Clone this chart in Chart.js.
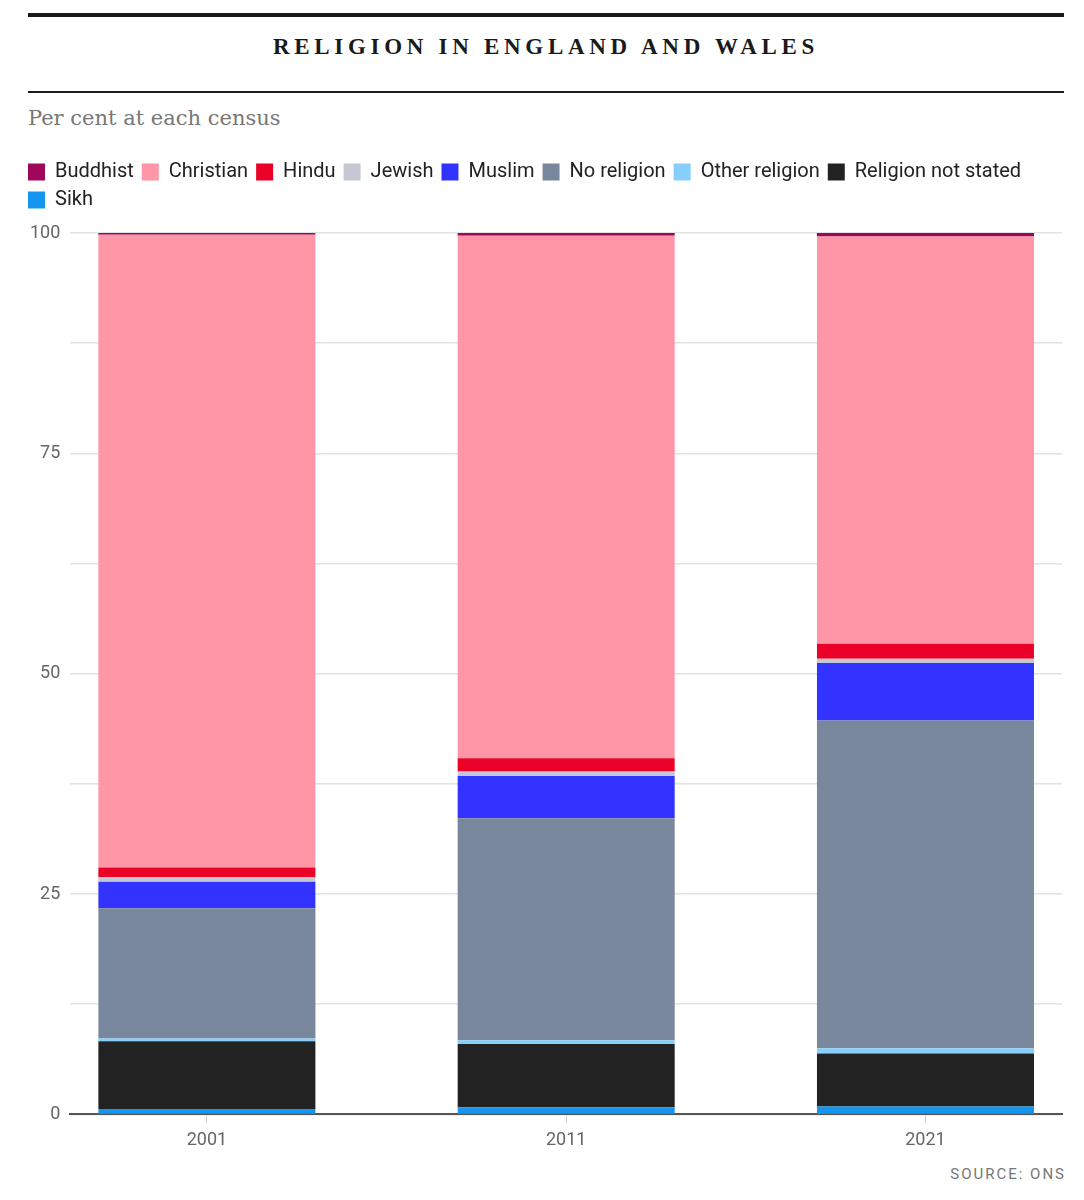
<!DOCTYPE html>
<html>
<head>
<meta charset="utf-8">
<script src="https://cdn.jsdelivr.net/npm/chart.js@4"></script>
<style>
    body { margin: 0; background: #fff; width: 1084px; height: 1200px; position: relative; }
    .rule-top { position: absolute; left: 28px; top: 13px; width: 1036px; height: 4px; background: #1a1a1a; }
    .rule-mid { position: absolute; left: 28px; top: 91px; width: 1036px; height: 2px; background: #1a1a1a; }
    .title { position: absolute; left: 28px; top: 34px; width: 1036px; text-align: center;
             font-family: "Liberation Serif", "DejaVu Serif", serif; font-weight: bold; font-size: 23px;
             letter-spacing: 4.7px; color: #1a1a1a; }
    .subtitle { position: absolute; left: 28px; top: 106px; font-family: "DejaVu Serif", "Liberation Serif", serif;
                font-size: 21px; color: #777; }
    .source { position: absolute; right: 18px; top: 1165px; font-family: "Roboto", sans-serif;
              font-size: 15px; letter-spacing: 2px; color: #777; }
    #wrap { position: absolute; left: 20px; top: 154px; width: 1044px; height: 1004px; }
</style>
</head>
<body>
<div class="rule-top"></div>
<div class="title">RELIGION IN ENGLAND AND WALES</div>
<div class="rule-mid"></div>
<div class="subtitle">Per cent at each census</div>
<div id="wrap"><canvas id="chart"></canvas></div>
<div class="source">SOURCE: ONS</div>
<script>
// census years
const years = [2001, 2011, 2021];

// per cent of population, bottom of the stack first
const sikh = [0.6, 0.8, 0.9];
const notStated = [7.7, 7.2, 6.0];
const otherReligion = [0.3, 0.4, 0.6];
const noReligion = [14.8, 25.2, 37.2];
const muslim = [3.0, 4.8, 6.5];
const jewish = [0.5, 0.5, 0.5];
const hindu = [1.1, 1.5, 1.7];
const christian = [71.8, 59.3, 46.2];
const buddhist = [0.3, 0.4, 0.5];

const yTicks = [0, 25, 50, 75, 100];

const FONT = '"Roboto", sans-serif';

function series(label, values, color) {
    return {
        label: label,
        data: values.map((v, i) => ({ x: years[i], y: v })),
        backgroundColor: color,
        borderWidth: 0,
        barPercentage: 0.604,
        categoryPercentage: 1.0
    };
}

// leave a gap between the legend and the plot
const legendGap = {
    id: 'legendGap',
    beforeInit(chart) {
        const fit = chart.legend.fit;
        chart.legend.fit = function () {
            fit.call(this);
            this.height += 13;
        };
    }
};

new Chart(document.getElementById('chart').getContext('2d'), {
    type: 'bar',
    data: {
        datasets: [
            series('Sikh', sikh, '#1496f0'),
            series('Religion not stated', notStated, '#222222'),
            series('Other religion', otherReligion, '#87cefa'),
            series('No religion', noReligion, '#78879c'),
            series('Muslim', muslim, '#3333ff'),
            series('Jewish', jewish, '#c3c8d2'),
            series('Hindu', hindu, '#eb0028'),
            series('Christian', christian, '#ff96a8'),
            series('Buddhist', buddhist, '#a0065a')
        ]
    },
    options: {
        responsive: true,
        maintainAspectRatio: false,
        animation: false,
        layout: { padding: { right: 2, top: 0, bottom: 0 } },
        plugins: {
            tooltip: { enabled: false },
            legend: {
                position: 'top',
                align: 'start',
                labels: {
                    boxWidth: 17,
                    boxHeight: 17,
                    padding: 8,
                    color: '#222',
                    font: { family: FONT, size: 20 },
                    sort: (a, b) => a.text.localeCompare(b.text)
                }
            }
        },
        scales: {
            x: {
                type: 'linear',
                stacked: true,
                offset: false,
                min: 1997.2,
                max: 2024.8,
                afterBuildTicks: axis => { axis.ticks = years.map(v => ({ value: v })); },
                ticks: {
                    color: '#666',
                    font: { family: FONT, size: 18 },
                    padding: 7,
                    callback: v => String(v)
                },
                grid: { offset: false, drawOnChartArea: false, drawTicks: true, tickLength: 8, color: '#ccc' },
                border: { display: true, color: '#555', width: 2 }
            },
            y: {
                stacked: true,
                min: 0,
                max: 100,
                afterBuildTicks: axis => {
                    const t = [];
                    for (let v = 0; v <= 100; v += 12.5) t.push({ value: v });
                    axis.ticks = t;
                },
                ticks: {
                    color: '#666',
                    font: { family: FONT, size: 18 },
                    padding: 10,
                    callback: v => yTicks.includes(v) ? String(v) : ''
                },
                grid: { color: '#e2e2e2', lineWidth: 1.5, drawTicks: false },
                border: { display: false }
            }
        }
    },
    plugins: [legendGap]
});
</script>
</body>
</html>
